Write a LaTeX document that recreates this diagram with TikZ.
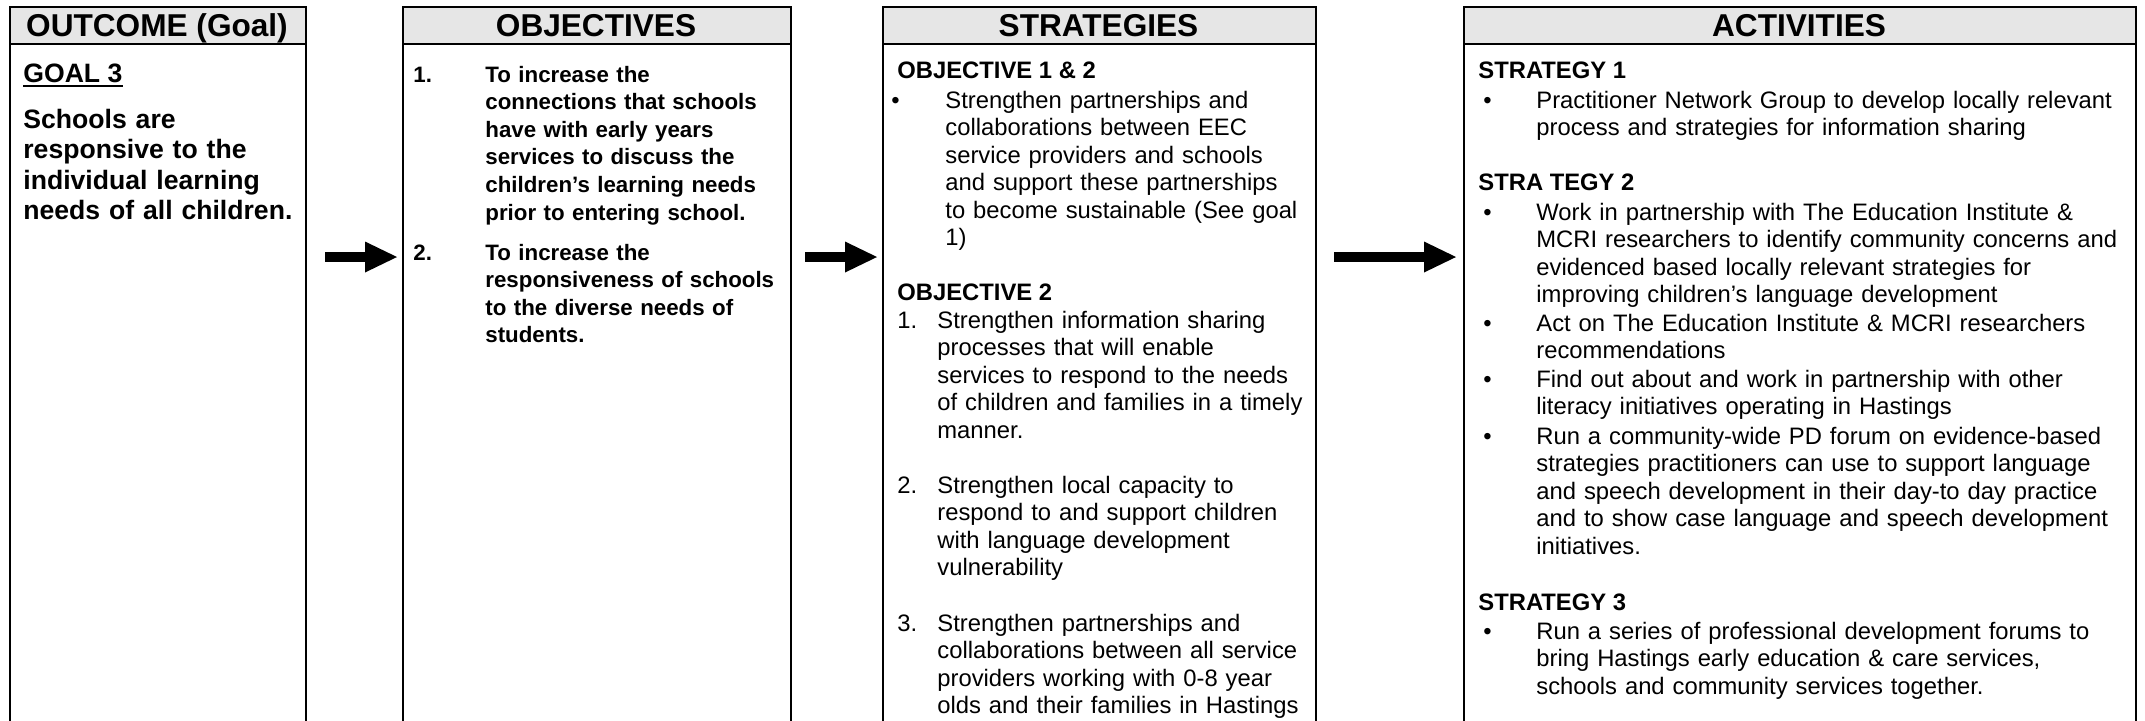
\documentclass[tikz,border=0pt]{standalone}
\usepackage{fontspec}
\setmainfont{Liberation Sans}
\usetikzlibrary{arrows.meta}
\definecolor{hdrgray}{RGB}{230,230,230}
\tikzset{
  colbox/.style={draw, line width=1pt, anchor=north west, inner sep=0pt, minimum height=367pt},
  hdrbox/.style={draw, fill=hdrgray, line width=1pt, anchor=north west, inner sep=0pt, minimum height=18.5pt},
  hdrtxt/.style={font=\fontsize{15.8pt}{18pt}\selectfont\bfseries, anchor=base, inner sep=0pt},
  goalhead/.style={font=\fontsize{13.3pt}{15.3pt}\selectfont\bfseries, anchor=base west, inner sep=0pt},
  goaltxt/.style={font=\fontsize{13.3pt}{15.3pt}\selectfont\bfseries, anchor=base west, inner sep=0pt, text width=150pt, align=left},
  objnum/.style={font=\fontsize{11.15pt}{13.8pt}\selectfont\bfseries, anchor=base west, inner sep=0pt},
  objtxt/.style={font=\fontsize{11.15pt}{13.8pt}\selectfont\bfseries, anchor=base west, inner sep=0pt, text width=170pt, align=left},
  bodyhead/.style={font=\fontsize{11.9pt}{13.75pt}\selectfont\bfseries, anchor=base west, inner sep=0pt},
  bodynum/.style={font=\fontsize{11.9pt}{13.75pt}\selectfont, anchor=base west, inner sep=0pt},
  bodytxt/.style={font=\fontsize{11.9pt}{13.75pt}\selectfont, anchor=base west, inner sep=0pt, text width=330pt, align=left},
  bigarrow/.style={line width=5pt, -{Triangle[length=16pt, width=15.5pt, line width=0pt]}},
}
\begin{document}
\begin{tikzpicture}[x=0.5pt, y=-0.5pt]
\path[use as bounding box, clip] (0,0) rectangle (2145,720);
\fill[white] (0,0) rectangle (2145,720);

% columns
\node[colbox, minimum width=148pt] (col1) at (9,6) {};
\node[colbox, minimum width=194pt] (col2) at (402,6) {};
\node[colbox, minimum width=216.5pt] (col3) at (882,6) {};
\node[colbox, minimum width=336pt] (col4) at (1463,6) {};

% headers
\node[hdrbox, minimum width=148pt] (hdr1) at (9,6) {};
\node[hdrbox, minimum width=194pt] (hdr2) at (402,6) {};
\node[hdrbox, minimum width=216.5pt] (hdr3) at (882,6) {};
\node[hdrbox, minimum width=336pt] (hdr4) at (1463,6) {};
\node[hdrtxt] (h1) at (157,36.5) {OUTCOME (Goal)};
\node[hdrtxt] (h2) at (596,36.5) {OBJECTIVES};
\node[hdrtxt] (h3) at (1098.5,36.5) {STRATEGIES};
\node[hdrtxt] (h4) at (1799,36.5) {ACTIVITIES};

% column 1
\node[goalhead] (goal) at (23,82) {GOAL 3};
\draw[line width=1pt] ([yshift=-2pt]goal.base west) -- ([yshift=-2pt]goal.base east);
\node[goaltxt] (goaltext) at (23,128) {Schools are\\responsive to the\\individual learning\\needs of all children.};

% column 2
\node[objnum] (o1n) at (413,82) {1.};
\node[objtxt] (o1t) at (485,82) {To increase the\\connections that schools\\have with early years\\services to discuss the\\children’s learning needs\\prior to entering school.};
\node[objnum] (o2n) at (413,260) {2.};
\node[objtxt] (o2t) at (485,260) {To increase the\\responsiveness of schools\\to the diverse needs of\\students.};

% column 3
\node[bodyhead] (s12h) at (897,78) {OBJECTIVE 1 \& 2};
\node[bodynum] (s12b) at (891,108) {•};
\node[bodytxt] (s12t) at (945,108) {Strengthen partnerships and\\collaborations between EEC\\service providers and schools\\and support these partnerships\\to become sustainable (See goal\\1)};
\node[bodyhead] (s2h) at (897,300) {OBJECTIVE 2};
\node[bodynum] (s2n1) at (897,328) {1.};
\node[bodytxt] (s2t1) at (937,328) {Strengthen information sharing\\processes that will enable\\services to respond to the needs\\of children and families in a timely\\manner.};
\node[bodynum] (s2n2) at (897,493) {2.};
\node[bodytxt] (s2t2) at (937,493) {Strengthen local capacity to\\respond to and support children\\with language development\\vulnerability};
\node[bodynum] (s2n3) at (897,631) {3.};
\node[bodytxt] (s2t3) at (937,631) {Strengthen partnerships and\\collaborations between all service\\providers working with 0-8 year\\olds and their families in Hastings};

% column 4
\node[bodyhead] (a1h) at (1478,78) {STRATEGY 1};
\node[bodynum] (a1b) at (1483,108) {•};
\node[bodytxt] (a1t) at (1536,108) {Practitioner Network Group to develop locally relevant\\process and strategies for information sharing};
\node[bodyhead] (a2h) at (1478,190) {STRA TEGY 2};
\node[bodynum] (a2b1) at (1483,220) {•};
\node[bodytxt] (a2t1) at (1536,220) {Work in partnership with The Education Institute \&\\MCRI researchers to identify community concerns and\\evidenced based locally relevant strategies for\\improving children’s language development};
\node[bodynum] (a2b2) at (1483,331) {•};
\node[bodytxt] (a2t2) at (1536,331) {Act on The Education Institute \& MCRI researchers\\recommendations};
\node[bodynum] (a2b3) at (1483,387) {•};
\node[bodytxt] (a2t3) at (1536,387) {Find out about and work in partnership with other\\literacy initiatives operating in Hastings};
\node[bodynum] (a2b4) at (1483,444) {•};
\node[bodytxt] (a2t4) at (1536,444) {Run a community-wide PD forum on evidence-based\\strategies practitioners can use to support language\\and speech development in their day-to day practice\\and to show case language and speech development\\initiatives.};
\node[bodyhead] (a3h) at (1478,610) {STRATEGY 3};
\node[bodynum] (a3b) at (1483,639) {•};
\node[bodytxt] (a3t) at (1536,639) {Run a series of professional development forums to\\bring Hastings early education \& care services,\\schools and community services together.};

% arrows
\coordinate (a1s) at (325,257);
\coordinate (a1e) at (397,257);
\coordinate (a2s) at (805,257);
\coordinate (a2e) at (877,257);
\coordinate (a3s) at (1334,257);
\coordinate (a3e) at (1456,257);
\draw[bigarrow] (a1s) -- (a1e);
\draw[bigarrow] (a2s) -- (a2e);
\draw[bigarrow] (a3s) -- (a3e);
\end{tikzpicture}
\end{document}
